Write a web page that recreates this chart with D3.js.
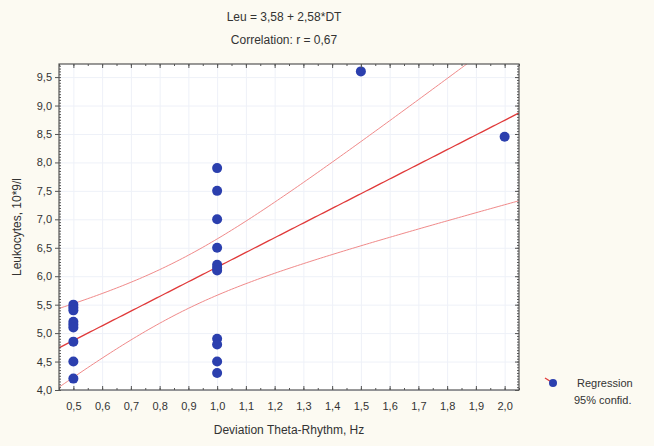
<!DOCTYPE html>
<html>
<head>
<meta charset="utf-8">
<script src="https://cdn.jsdelivr.net/npm/d3@7/dist/d3.min.js"></script>
<style>
  body { margin: 0; background: #fcfaf2; }
  text { font-family: Arial, "Liberation Sans", sans-serif; fill: #333; }
</style>
</head>
<body>
<div id="chart"></div>
<script>
// data
var devTheta = [0.5, 0.5, 0.5, 0.5, 0.5, 0.5, 0.5, 0.5, 0.5,
  1.0, 1.0, 1.0, 1.0, 1.0, 1.0, 1.0, 1.0, 1.0, 1.0, 1.0,
  1.5, 2.0];
var leukocytes = [5.5, 5.45, 5.4, 5.2, 5.15, 5.1, 4.85, 4.5, 4.2,
  7.9, 7.5, 7.0, 6.5, 6.2, 6.15, 6.1, 4.9, 4.8, 4.5, 4.3,
  9.6, 8.45];
var xTickValues = [0.5, 0.6, 0.7, 0.8, 0.9, 1.0, 1.1, 1.2, 1.3, 1.4, 1.5, 1.6, 1.7, 1.8, 1.9, 2.0];
var yTickValues = [4.0, 4.5, 5.0, 5.5, 6.0, 6.5, 7.0, 7.5, 8.0, 8.5, 9.0, 9.5];
var intercept = 3.58, slope = 2.58, corr = 0.67;
var tCrit = 2.086; // t(0.975, n-2)
var legendLabels = ["Regression", "95% confid."];

var margin = { top: 64, right: 135, bottom: 56, left: 59 },
  width = 654 - margin.left - margin.right,
  height = 446 - margin.top - margin.bottom;

var comma = function (v) { return d3.format(".1f")(v).replace(".", ","); };
var comma2 = function (v) { return d3.format(".2f")(v).replace(".", ","); };

var root = d3.select("#chart").append("svg")
  .attr("width", 654).attr("height", 446);

root.append("rect").attr("width", 654).attr("height", 446).attr("fill", "#fcfaf2");

var svg = root.append("g")
  .attr("transform", "translate(" + margin.left + "," + margin.top + ")");

var x = d3.scaleLinear().domain([0.45, 2.05]).range([0, width]);
var y = d3.scaleLinear().domain([4.0, 9.73]).range([height, 0]);

svg.append("rect").attr("width", width).attr("height", height).attr("fill", "#ffffff");

// faint grid
svg.append("g")
  .call(d3.axisLeft(y).tickValues(yTickValues).tickSize(-width).tickFormat(""))
  .call(function (g) { g.select(".domain").remove(); })
  .selectAll("line").attr("stroke", "#eef1f8");
svg.append("g")
  .attr("transform", "translate(0," + height + ")")
  .call(d3.axisBottom(x).tickValues(xTickValues).tickSize(-height).tickFormat(""))
  .call(function (g) { g.select(".domain").remove(); })
  .selectAll("line").attr("stroke", "#eef1f8");

// clip
svg.append("defs").append("clipPath").attr("id", "clip")
  .append("rect").attr("width", width).attr("height", height);

// regression + confidence band
var n = devTheta.length;
var mx = d3.mean(devTheta);
var sxx = d3.sum(devTheta, function (v) { return (v - mx) * (v - mx); });
var sse = d3.sum(devTheta, function (v, i) {
  var r = leukocytes[i] - (intercept + slope * v);
  return r * r;
});
var se = Math.sqrt(sse / (n - 2));
var xs = d3.range(0.45, 2.0501, 0.01);
var band = xs.map(function (v) {
  var fit = intercept + slope * v;
  var hw = tCrit * se * Math.sqrt(1 / n + (v - mx) * (v - mx) / sxx);
  return { x: v, fit: fit, lo: fit - hw, hi: fit + hw };
});

var lines = svg.append("g").attr("clip-path", "url(#clip)");
["lo", "hi"].forEach(function (k) {
  lines.append("path")
    .datum(band)
    .attr("fill", "none")
    .attr("stroke", "#f08a8a")
    .attr("stroke-width", 1)
    .attr("d", d3.line().x(function (d) { return x(d.x); }).y(function (d) { return y(d[k]); }));
});
lines.append("path")
  .datum(band)
  .attr("fill", "none")
  .attr("stroke", "#e03a3a")
  .attr("stroke-width", 1.3)
  .attr("d", d3.line().x(function (d) { return x(d.x); }).y(function (d) { return y(d.fit); }));

// points
svg.append("g")
  .selectAll("circle")
  .data(devTheta)
  .enter()
  .append("circle")
  .attr("cx", function (d) { return x(d); })
  .attr("cy", function (d, i) { return y(leukocytes[i]); })
  .attr("r", 5)
  .attr("fill", "#2b3fae");

// axes
var xMinor = d3.range(0.45, 2.051, 0.05);
var yMinor = d3.range(4.0, 9.731, 0.05);

var styleAxis = function (g) {
  g.select(".domain").remove();
  g.selectAll("line").attr("stroke", "#555");
  g.selectAll("text").attr("font-size", 11).attr("fill", "#444");
};

svg.append("g")
  .attr("transform", "translate(0," + height + ")")
  .call(d3.axisBottom(x).tickValues(xMinor).tickSize(-2).tickFormat(""))
  .call(styleAxis);
svg.append("g")
  .attr("transform", "translate(0," + height + ")")
  .call(d3.axisBottom(x).tickValues(xTickValues).tickSize(-4).tickPadding(12).tickFormat(comma))
  .call(styleAxis);
svg.append("g")
  .call(d3.axisTop(x).tickValues(xMinor).tickSize(-2).tickFormat(""))
  .call(styleAxis);
svg.append("g")
  .call(d3.axisTop(x).tickValues(xTickValues).tickSize(-4).tickFormat(""))
  .call(styleAxis);

svg.append("g")
  .call(d3.axisLeft(y).tickValues(yMinor).tickSize(-2).tickFormat(""))
  .call(styleAxis);
svg.append("g")
  .call(d3.axisLeft(y).tickValues(yTickValues).tickSize(4).tickPadding(3).tickFormat(comma))
  .call(styleAxis);
svg.append("g")
  .attr("transform", "translate(" + width + ",0)")
  .call(d3.axisRight(y).tickValues(yMinor).tickSize(-2).tickFormat(""))
  .call(styleAxis);
svg.append("g")
  .attr("transform", "translate(" + width + ",0)")
  .call(d3.axisRight(y).tickValues(yTickValues).tickSize(-4).tickFormat(""))
  .call(styleAxis);

// frame
svg.append("rect")
  .attr("width", width).attr("height", height)
  .attr("fill", "none").attr("stroke", "#555").attr("stroke-width", 1.2);

// titles
root.append("text")
  .attr("x", 284).attr("y", 21)
  .attr("text-anchor", "middle").attr("font-size", 12)
  .text("Leu = " + comma2(intercept) + " + " + comma2(slope) + "*DT");
root.append("text")
  .attr("x", 284).attr("y", 44)
  .attr("text-anchor", "middle").attr("font-size", 12)
  .text("Correlation: r = " + comma2(corr));

// axis labels
root.append("text")
  .attr("x", margin.left + width / 2).attr("y", 434)
  .attr("text-anchor", "middle").attr("font-size", 12)
  .text("Deviation Theta-Rhythm, Hz");
root.append("text")
  .attr("transform", "translate(21," + (margin.top + height / 2) + ") rotate(-90)")
  .attr("text-anchor", "middle").attr("font-size", 12)
  .text("Leukocytes, 10*9/l");

// legend
var lg = root.append("g").attr("transform", "translate(553,383)");
lg.append("line")
  .attr("x1", -8).attr("y1", -5).attr("x2", 0).attr("y2", 0)
  .attr("stroke", "#e03a3a").attr("stroke-width", 1.3);
lg.append("circle").attr("r", 4).attr("fill", "#2b3fae");
lg.selectAll("text.lab")
  .data(legendLabels)
  .enter()
  .append("text")
  .attr("class", "lab")
  .attr("x", function (d, i) { return i === 0 ? 24 : 21; })
  .attr("y", function (d, i) { return 4 + i * 17; })
  .attr("font-size", 11)
  .text(function (d) { return d; });
</script>
</body>
</html>
